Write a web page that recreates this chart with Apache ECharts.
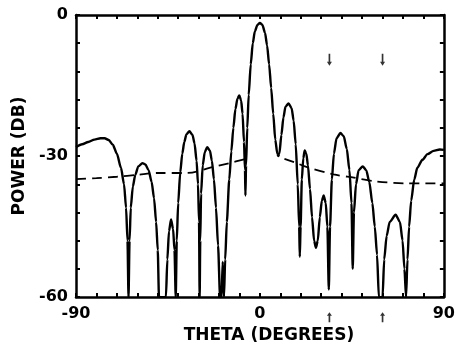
<!DOCTYPE html>
<html>
<head>
<meta charset="utf-8">
<script src="https://cdn.jsdelivr.net/npm/echarts@6/dist/echarts.min.js"></script>
<style>
  html, body { margin: 0; padding: 0; background: #fff; }
  #chart { width: 458px; height: 349px; }
</style>
</head>
<body>
<div id="chart"></div>
<script>
// antenna pattern, [theta deg, power dB]
var pattern = [
  [-90, -28.1], [-87, -27.5], [-84, -27.0], [-81, -26.5], [-78, -26.2], [-76, -26.2],
  [-74, -26.6], [-72, -27.6], [-70, -29.5], [-68, -32.5], [-66.5, -36], [-65.5, -41],
  [-64.8, -48], [-64.3, -60],
  [-63.8, -48], [-63.2, -41], [-62.2, -36.5], [-61, -34], [-59.5, -32.2], [-57.5, -31.5],
  [-56, -31.8], [-54.5, -33], [-53, -35.5], [-51.8, -39], [-50.8, -44], [-50, -50], [-49.4, -60],
  [-46, -60], [-45.3, -52], [-44.5, -46], [-43.5, -43.5], [-42.5, -45.5], [-41.8, -50], [-41.2, -60],
  [-40.7, -48], [-40, -40], [-39, -33.5], [-38, -29.5], [-37, -27], [-36, -25.4], [-34.5, -24.7],
  [-33, -25.5], [-32, -27.3], [-31, -31], [-30.3, -36], [-29.8, -44], [-29.5, -60],
  [-29.2, -48], [-28.8, -38], [-28, -32], [-27, -29.2], [-25.8, -28.1], [-24.5, -28.8],
  [-23.5, -31], [-22.5, -35], [-21.5, -41], [-20.5, -49], [-19.5, -60],
  [-18.8, -60], [-18.2, -52.5], [-17.6, -60],
  [-17, -52], [-16.2, -44], [-15, -35], [-14, -29], [-13, -24], [-12, -20], [-11, -17.8],
  [-10.1, -17.1], [-9.2, -18.2], [-8.5, -21], [-7.8, -27], [-7.3, -33], [-7.1, -38.4],
  [-6.8, -32], [-6.2, -24], [-5.5, -17], [-4.5, -10.5], [-3.5, -6], [-2.5, -3.5], [-1.2, -2.1],
  [0, -1.7], [1.2, -2.1], [2.5, -3.8], [3.5, -6.5], [4.5, -10.5], [5.5, -15.5], [6.5, -21],
  [7.5, -26.5], [8.5, -29.5], [9, -30], [9.5, -29.5], [10.5, -25.5], [11.5, -21.8],
  [12.5, -19.5], [14, -18.8], [15.5, -19.8], [16.5, -22.5], [17.5, -27.5], [18.5, -36],
  [19.2, -45], [19.5, -51.4], [19.9, -45], [20.5, -35], [21.2, -30.5], [21.9, -28.8],
  [22.7, -29.5], [23.5, -32], [24.5, -37], [25.5, -43], [26.5, -48], [27.4, -49.5],
  [28.3, -48], [29.3, -43], [30.3, -39.5], [31.2, -38.4], [32.2, -40], [33, -45], [33.7, -58.4],
  [34.3, -45], [35.2, -35], [36.2, -29.5], [37.5, -26.2], [39.4, -25.1], [41, -25.8],
  [42.5, -28.5], [43.8, -33], [44.8, -40], [45.4, -54], [46, -42], [47, -36], [48.3, -33],
  [50.3, -32.2], [52, -33], [53.5, -35.5], [55, -40], [56.2, -45], [57.3, -51], [58.2, -60],
  [60, -60], [60.8, -52], [62, -47], [63.5, -44], [66.4, -42.5], [68.5, -44], [69.8, -48],
  [70.7, -54], [71.5, -60],
  [72.2, -52], [73, -45], [74, -39.5], [75.5, -35], [77, -32.5], [79.5, -30.8], [82, -29.6],
  [85, -28.9], [88, -28.6], [90, -28.7]
];

// dashed reference level
var refLeft = [
  [-90, -34.9], [-80, -34.7], [-70, -34.4], [-60, -34.0], [-50, -33.6], [-36, -33.6],
  [-22, -32.2], [-15, -31.5], [-7.5, -30.7]
];
var refRight = [
  [12, -30.6], [18, -31.5], [22, -32.2], [36, -33.9], [46, -34.6], [57, -35.4],
  [72, -35.8], [90, -35.8]
];

var markTheta = [34, 60];
var xLabels = [-90, 0, 90];
var yLabels = [0, -30, -60];

var font = 'DejaVu Sans';
var chart = echarts.init(document.getElementById('chart'));

function frameAxis(pos) {
  return {
    position: pos,
    axisLine: { show: true, onZero: false, lineStyle: { color: '#000', width: 2.5 } },
    axisTick: { show: true, inside: true, length: 4, lineStyle: { color: '#000', width: 2 } },
    axisLabel: { show: false },
    splitLine: { show: false }
  };
}

var topAxis = Object.assign({ type: 'value', min: -90, max: 90, interval: 10 }, frameAxis('top'));
var rightAxis = Object.assign({ type: 'value', min: -60, max: 0, interval: 6 }, frameAxis('right'));

chart.setOption({
  animation: false,
  grid: { left: 76, right: 11, top: 15, bottom: 42 },
  xAxis: [{
    type: 'value', min: -90, max: 90, interval: 10,
    position: 'bottom',
    name: 'THETA (DEGREES)', nameLocation: 'middle', nameGap: 25,
    nameTextStyle: { fontFamily: font, fontWeight: 'bold', fontSize: 17, color: '#000', padding: [0, 0, 0, 18] },
    axisLine: { show: true, onZero: false, lineStyle: { color: '#000', width: 2.5 } },
    axisTick: { show: true, inside: true, length: 4, lineStyle: { color: '#000', width: 2 } },
    axisLabel: {
      margin: 9, fontFamily: font, fontWeight: 'bold', fontSize: 16, color: '#000',
      formatter: function (v) { return xLabels.indexOf(v) >= 0 ? String(v) : ''; }
    },
    splitLine: { show: false }
  }, topAxis],
  yAxis: [{
    type: 'value', min: -60, max: 0, interval: 6,
    position: 'left',
    name: 'POWER (DB)', nameLocation: 'middle', nameGap: 48,
    nameTextStyle: { fontFamily: font, fontWeight: 'bold', fontSize: 17, color: '#000' },
    axisLine: { show: true, onZero: false, lineStyle: { color: '#000', width: 2.5 } },
    axisTick: { show: true, inside: true, length: 4, lineStyle: { color: '#000', width: 2 } },
    axisLabel: {
      margin: 8, fontFamily: font, fontWeight: 'bold', fontSize: 16, color: '#000',
      formatter: function (v) { return yLabels.indexOf(v) >= 0 ? String(v) : ''; }
    },
    splitLine: { show: false }
  }, rightAxis],
  series: [{
    type: 'line', data: pattern, showSymbol: false, smooth: 0.25, smoothMonotone: 'x',
    lineStyle: { color: '#000', width: 2.4 }, clip: true
  }, {
    type: 'line', data: refLeft, showSymbol: false, smooth: 0.3,
    lineStyle: { color: '#000', width: 1.8, type: [10, 6] }
  }, {
    type: 'line', data: refRight, showSymbol: false, smooth: 0.3,
    lineStyle: { color: '#000', width: 1.8, type: [10, 6] }
  }, {
    type: 'scatter', clip: false,
    data: markTheta.map(function (t) { return [t, -9.5]; }),
    symbol: 'path://M2,0 L4,0 L4,8 L6,8 L3,12 L0,8 L2,8 Z', symbolSize: [5, 12],
    itemStyle: { color: '#000' }
  }, {
    type: 'scatter', clip: false,
    data: markTheta.map(function (t) { return [t, -64.3]; }),
    symbol: 'path://M3,0 L6,4 L4,4 L4,12 L2,12 L2,4 L0,4 Z', symbolSize: [5, 10],
    itemStyle: { color: '#000' }
  }]
});
</script>
</body>
</html>
